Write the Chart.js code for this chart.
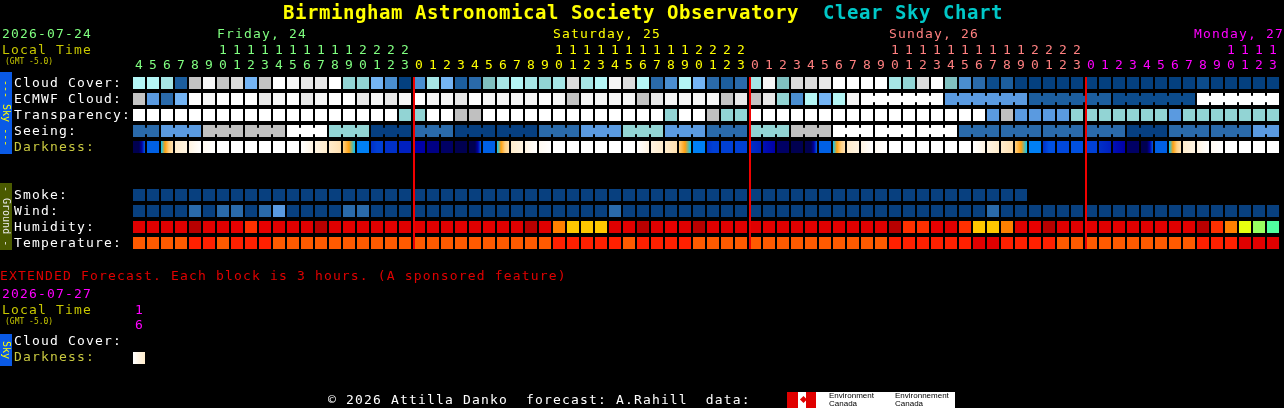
<!DOCTYPE html>
<html>
<head>
<meta charset="utf-8">
<script src="https://cdn.jsdelivr.net/npm/chart.js@4.4.1/dist/chart.umd.min.js"></script>
<style>
  html, body { margin: 0; padding: 0; background: #000; }
  body { width: 1284px; height: 408px; position: relative; overflow: hidden;
         font-family: "DejaVu Sans Mono", monospace; font-size: 13px; letter-spacing: 1.17px; color: #fff; }
  #chart { position: absolute; left: 0; top: 0; }
  .t { position: absolute; white-space: pre; line-height: 16px; }
  .small { font-size: 8px; letter-spacing: 0; line-height: 10px; }
  .side { position: absolute; left: 0; width: 12px; writing-mode: vertical-rl; text-align: center;
          font-size: 10px; letter-spacing: 0; line-height: 12px; white-space: pre; }
  .digit { position: absolute; width: 14px; text-align: center; letter-spacing: 0; line-height: 16px; }
</style>
</head>
<body>
<canvas id="chart" width="1284" height="408"></canvas>

<div class="t" style="left:283px;top:0;font-size:19px;font-weight:bold;line-height:24px;letter-spacing:0.56px;color:#ffff00">Birmingham Astronomical Society Observatory  <span style="color:#00c8c8">Clear Sky Chart</span></div>

<div class="t" style="left:2px;top:26px;color:#80ff80">2026-07-24</div>
<div class="t" style="left:2px;top:42px;color:#c8c800">Local Time</div>
<div class="t small" style="left:5px;top:57px;color:#c8c800">(GMT -5.0)</div>

<div class="side" style="top:72px;height:82px;background:#0a5ae6;color:#ffff00">--- Sky ---</div>
<div class="side" style="top:183px;height:67px;background:#4a5a00;color:#e8e8e8">- Ground -</div>

<div class="t" style="left:14px;top:75px">Cloud Cover:</div>
<div class="t" style="left:14px;top:91px">ECMWF Cloud:</div>
<div class="t" style="left:14px;top:107px">Transparency:</div>
<div class="t" style="left:14px;top:123px">Seeing:</div>
<div class="t" style="left:14px;top:139px;color:#c8c840">Darkness:</div>
<div class="t" style="left:14px;top:187px">Smoke:</div>
<div class="t" style="left:14px;top:203px">Wind:</div>
<div class="t" style="left:14px;top:219px">Humidity:</div>
<div class="t" style="left:14px;top:235px">Temperature:</div>

<div class="t" style="left:0;top:268px;color:#e00000">EXTENDED Forecast. Each block is 3 hours. (A sponsored feature)</div>
<div class="t" style="left:2px;top:286px;color:#ff00ff">2026-07-27</div>
<div class="t" style="left:2px;top:302px;color:#c8c800">Local Time</div>
<div class="t small" style="left:5px;top:317px;color:#c8c800">(GMT -5.0)</div>
<div class="digit" style="left:132px;top:302px;color:#ff00ff">1</div>
<div class="digit" style="left:132px;top:317px;color:#ff00ff">6</div>
<div class="side" style="top:334px;height:32px;background:#0a5ae6;color:#ffff00">Sky</div>
<div class="t" style="left:14px;top:333px">Cloud Cover:</div>
<div class="t" style="left:14px;top:349px;color:#c8c840">Darkness:</div>

<div class="t" style="left:328px;top:392px">© 2026 Attilla Danko  forecast: A.Rahill  data:</div>
<div style="position:absolute;left:787px;top:392px;width:168px;height:16px;background:#fff;">
  <div style="position:absolute;left:0;top:0;width:11px;height:16px;background:#e00000"></div>
  <div style="position:absolute;left:14px;top:5px;width:5px;height:5px;background:#e00000;transform:rotate(45deg)"></div>
  <div style="position:absolute;left:19px;top:0;width:10px;height:16px;background:#e00000"></div>
  <div style="position:absolute;left:42px;top:0;font-size:8px;line-height:8px;letter-spacing:0;color:#000;font-family:'Liberation Sans',sans-serif">Environment<br>Canada</div>
  <div style="position:absolute;left:108px;top:0;font-size:8px;line-height:8px;letter-spacing:0;color:#000;font-family:'Liberation Sans',sans-serif">Environnement<br>Canada</div>
</div>

<script>
// time axis
const startHour = 4;
const dayNames = ["Friday, 24", "Saturday, 25", "Sunday, 26", "Monday, 27"];
const dayColors = ["#80ff80", "#ffff00", "#ff8080", "#ff00ff"];
const midnightCols = [20, 44, 68];

// cloud levels 0 (clear) .. 15 (overcast)
const cloudCover = [
  10, 10, 9, 2, 11, 14, 11, 12, 6, 11, 15, 14, 13, 13, 15, 8, 8, 6, 4, 0, 4,
  9, 6, 2, 3, 7, 9, 10, 9, 8, 9, 12, 9, 10, 14, 12, 10, 3, 4, 10, 6, 3,
  2, 3, 9, 14, 7, 12, 12, 13, 15, 15, 15, 15, 9, 8, 12, 15, 7, 4, 3, 1, 2,
  0, 0, 0, 0, 0, 0, 0, 0, 0, 0, 0, 0, 0, 1, 0, 0, 0, 0, 0,
];
const ecmwfCloud = [
  11, 5, 3, 6, 15, 14, 15, 15, 15, 13, 14, 15, 13, 14, 15, 15, 13, 14, 13, 14, 15,
  14, 14, 13, 15, 14, 14, 14, 14, 15, 14, 11, 14, 14, 14, 14, 11, 13, 14, 14, 14, 14,
  11, 13, 11, 13, 8, 4, 10, 6, 10, 14,
  15, 15, 15, 15, 15, 15, 5, 5, 5, 5, 5, 5, 2, 2, 2, 2, 2, 2, 1, 1, 1, 1, 1, 1,
  15, 15, 15, 15, 15, 15,
];
const ecmwfSixHourFrom = 52;
// 0 too cloudy .. 5 transparent
const transparency = [
  0, 0, 0, 0, 0, 0, 0, 0, 0, 0, 0, 0, 0, 0, 0, 0, 0, 0, 0, 2, 2,
  0, 0, 1, 1, 0, 0, 0, 0, 0, 0, 0, 0, 0, 0, 0, 0, 0, 2, 0, 0, 1,
  2, 2, 0, 0, 0, 0, 0, 0, 0, 0, 0, 0, 0, 0, 0, 0, 0, 0, 0, 3, 1,
  3, 3, 3, 3, 2, 2, 2, 2, 2, 2, 2, 3, 2, 2, 2, 2, 2, 2, 2,
];
// 0 too cloudy, 1 bad .. 5 excellent
const seeing = [
  4, 4, 3, 3, 3, 1, 1, 1, 1, 1, 1, 0, 0, 0, 2, 2, 2, 5, 5, 5, 4,
  4, 4, 5, 5, 5, 5, 5, 5, 4, 4, 4, 3, 3, 3, 2, 2, 2, 3, 3, 3, 4,
  4, 4, 2, 2, 2, 1, 1, 1, 0, 0, 0, 0, 0, 0, 0, 0, 0, 4, 4, 4, 4,
  4, 4, 4, 4, 4, 4, 4, 4, 5, 5, 5, 4, 4, 4, 4, 4, 4, 3, 3,
];
// darkness shades per block, left to right
const darkness = [
  "a a a d k", "k", "m o p q", "r s", "s t w", "t w", "w", "w", "w", "w", "w", "w",
  "w t s", "s r", "r q", "p o m", "l", "g h h", "g", "f", "d", "c", "b", "a",
  "a a a d k", "k", "m o p q", "r s", "s t w", "t w", "w", "w", "w", "w", "w", "w",
  "w t s", "s r", "r q", "p o m", "l", "g h h", "h", "h", "g f", "e d", "b", "a",
  "a a a d k", "k", "m o p q", "r s", "s t w", "t w", "w", "w", "w", "w", "w", "w",
  "w t s", "s r", "r q", "p o m", "l", "g j j", "i", "j", "h", "g f", "e d", "b",
  "a a a d k", "k", "m o p q", "r s", "s t w", "t w", "w", "w", "w", "w",
];
// smoke ug/m3 (no forecast after col 63)
const smoke = [
  0, 0, 0, 0, 0, 0, 0, 0, 0, 0, 0, 0, 0, 0, 0, 0, 0, 0, 0, 0, 0,
  0, 0, 0, 0, 0, 0, 0, 0, 0, 0, 0, 0, 0, 0, 0, 0, 0, 0, 0, 0, 0,
  0, 0, 0, 0, 0, 0, 0, 0, 0, 0, 0, 0, 0, 0, 0, 0, 0, 0, 0, 0, 0,
  0, null, null, null, null, null, null, null, null, null, null, null, null, null, null, null, null, null, null,
];
// mph
const wind = [
  3, 3, 3, 3, 8, 3, 8, 8, 3, 8, 13, 3, 3, 3, 3, 8, 8, 3, 3, 3, 3,
  3, 3, 3, 3, 3, 3, 3, 3, 3, 3, 3, 3, 3, 8, 3, 3, 3, 3, 3, 3, 3,
  3, 3, 3, 3, 3, 3, 3, 3, 3, 3, 3, 3, 3, 3, 3, 3, 3, 3, 3, 8, 3,
  3, 3, 3, 3, 3, 3, 3, 3, 3, 3, 3, 3, 3, 3, 3, 3, 3, 3, 3,
];
// percent
const humidity = [
  93, 93, 93, 93, 98, 93, 93, 88, 83, 88, 93, 93, 93, 98, 93, 93, 93, 93, 93, 93, 93,
  93, 93, 93, 93, 93, 93, 93, 98, 93, 78, 73, 73, 73, 93, 93, 98, 93, 88, 93, 98, 93,
  93, 93, 93, 93, 93, 93, 93, 93, 93, 93, 93, 93, 98, 83, 83, 88, 93, 83, 73, 73, 78,
  93, 88, 98, 93, 93, 93, 93, 93, 93, 93, 93, 93, 93, 98, 83, 78, 68, 63, 58,
];
// deg F
const temperature = [
  73, 73, 73, 73, 81, 81, 73, 81, 81, 81, 73, 73, 73, 73, 73, 73, 73, 73, 73, 73, 73,
  73, 73, 73, 73, 73, 73, 73, 73, 73, 81, 81, 81, 81, 81, 73, 81, 81, 81, 81, 73, 73,
  73, 73, 73, 73, 73, 73, 73, 73, 73, 73, 73, 73, 81, 81, 81, 81, 81, 81, 88, 88, 81,
  81, 81, 81, 73, 73, 73, 73, 73, 73, 73, 73, 73, 73, 81, 81, 81, 88, 88, 88,
];
const extDarkness = ["w s r"];

// colour scales
const cloudColors = ["#04407f", "#0c4c8c", "#1c5e9e", "#2a6aaa", "#4a8ed0", "#5a9ae0", "#74b4f4", "#80c0c0",
  "#92d4d4", "#a6e6e6", "#b4f6f6", "#c4c4c4", "#dcdcdc", "#e8e8e8", "#f6f6f6", "#ffffff"];
const transpColors = ["#ffffff", "#c0c0c0", "#92d4d4", "#5a9ae0", "#2a6aaa", "#0a4a8a"];
const seeingColors = ["#ffffff", "#c0c0c0", "#92d4d4", "#5a9ae0", "#2a6aaa", "#063f80"];
const darkShades = {
  a: "#000050", b: "#000064", c: "#000084", d: "#0000a8", e: "#0010b4", f: "#0020c0", g: "#0030c8",
  h: "#0040d4", i: "#0048dc", j: "#0050e0", k: "#0060e4", l: "#0080f4", m: "#00c8ff", o: "#ffa010",
  p: "#ffd080", q: "#ffe0b0", r: "#ffeccc", s: "#fff4e2", t: "#fffaf2", w: "#ffffff",
};
const humidColors = ["#b80000", "#e00000", "#e80000", "#ff3000", "#ff8000", "#ffc800", "#e8ff10", "#98ff60", "#50ffa0"];

const smokeColor = () => "#08407f";
const windColor = (v) => (v < 6 ? "#08407f" : v < 12 ? "#2a6aaa" : "#5a9ae0");
const humidColor = (h) => humidColors[Math.min(8, Math.floor((100 - h) / 5))];
const tempColor = (t) => (t < 77 ? "#ff5a00" : t < 86 ? "#ff2000" : "#e00000");

// header: day names and hour digits
function addText(txt, cls, left, top, color) {
  const d = document.createElement("div");
  d.className = cls;
  d.textContent = txt;
  d.style.left = left + "px";
  d.style.top = top + "px";
  d.style.color = color;
  document.body.appendChild(d);
  return d;
}
cloudCover.forEach((_, i) => {
  const hour = (startHour + i) % 24;
  const day = Math.floor((startHour + i) / 24);
  const left = 132 + 14 * i;
  addText(String(hour % 10), "digit", left, 57, dayColors[day]);
  if (hour >= 10) addText(String(Math.floor(hour / 10)), "digit", left, 42, dayColors[day]);
  if (hour === 10) {
    const el = addText(dayNames[day], "t", left + 1, 26, dayColors[day]);
    if (left + 1 + el.offsetWidth > 1284) el.style.left = 1284 - el.offsetWidth + "px";
  }
});

// rows: 0..4 sky, 7..10 ground, extended darkness row below
const H = 0.375;
function cells(values, row, colorOf) {
  const data = [], colors = [];
  values.forEach((v, i) => {
    if (v === null) return;
    data.push({ x: i + 0.5, y: [row - H, row + H] });
    colors.push(colorOf(v, i));
  });
  return { data, backgroundColor: colors, barThickness: 12, grouped: false, inflateAmount: 0, borderWidth: 0 };
}
function links(values, row, colorOf, joined) {
  const data = [], colors = [];
  values.forEach((v, i) => {
    if (i + 1 >= values.length || !joined(i)) return;
    data.push({ x: i + 1, y: [row - 0.2, row + 0.2] });
    colors.push(colorOf(v));
  });
  return { data, backgroundColor: colors, barThickness: 4, grouped: false, inflateAmount: 0, borderWidth: 0 };
}
function shadeCells(values, row) {
  const ds = cells(values, row, () => "#000");
  ds.backgroundColor = (ctx) => {
    const stops = values[ctx.dataIndex].split(" ").map((k) => darkShades[k]);
    const xs = ctx.chart.scales.x;
    if (stops.length === 1 || !xs) return stops[0];
    const cx = xs.getPixelForValue(ctx.dataIndex + 0.5);
    if (!isFinite(cx)) return stops[0];
    const g = ctx.chart.ctx.createLinearGradient(cx - 6, 0, cx + 6, 0);
    stops.forEach((c, k) => g.addColorStop(k / (stops.length - 1), c));
    return g;
  };
  return ds;
}
const block3 = (i) => Math.floor((startHour + i) / 3) === Math.floor((startHour + i + 1) / 3);
const block6 = (i) => i >= ecmwfSixHourFrom && Math.floor((i + 2) / 6) === Math.floor((i + 3) / 6);

const midnightLines = {
  id: "midnightLines",
  afterDatasetsDraw(chart) {
    const { ctx, scales: { x, y } } = chart;
    const top = y.getPixelForValue(-H);
    const bottom = y.getPixelForValue(10 + H);
    ctx.save();
    ctx.fillStyle = "#f00000";
    midnightCols.forEach((c) => ctx.fillRect(x.getPixelForValue(c) + 1, top, 2, bottom - top));
    ctx.restore();
  },
};

const chart = new Chart(document.getElementById("chart"), {
  type: "bar",
  data: {
    datasets: [
      cells(cloudCover, 0, (v) => cloudColors[v]),
      cells(ecmwfCloud, 1, (v) => cloudColors[v]),
      links(ecmwfCloud, 1, (v) => cloudColors[v], block6),
      cells(transparency, 2, (v) => transpColors[v]),
      cells(seeing, 3, (v) => seeingColors[v]),
      links(seeing, 3, (v) => seeingColors[v], block3),
      shadeCells(darkness, 4),
      cells(smoke, 7, smokeColor),
      cells(wind, 8, windColor),
      cells(humidity, 9, humidColor),
      cells(temperature, 10, tempColor),
      shadeCells(extDarkness, 17.1875),
    ],
  },
  options: {
    responsive: false,
    animation: false,
    devicePixelRatio: 1,
    layout: { padding: { left: 132, right: 4, top: 75, bottom: 37 } },
    scales: {
      x: { type: "linear", min: 0, max: 82, offset: false, display: false },
      y: { type: "linear", min: -0.5, max: 18, reverse: true, offset: false, display: false },
    },
    plugins: { legend: { display: false }, tooltip: { enabled: false } },
  },
  plugins: [midnightLines],
});
chart.update();
</script>
</body>
</html>
